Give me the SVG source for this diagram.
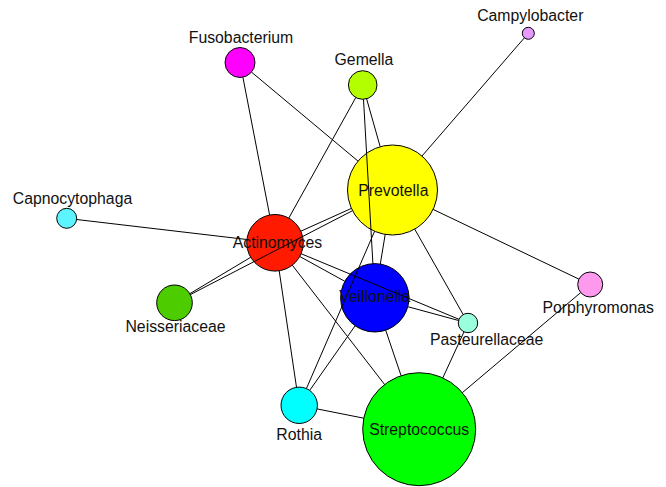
<svg xmlns="http://www.w3.org/2000/svg" width="666" height="487" viewBox="0 0 666 487">
<style>
.n{stroke:#000;stroke-width:1}
.t{font-family:"Liberation Sans",Arial,sans-serif;font-size:15.8px;fill:#111;text-anchor:middle}
.e line{stroke:#000;stroke-width:1}
</style>
<rect width="666" height="487" fill="#fff"/>
<g id="nodes">
<g id="Campylobacter"><circle class="n" cx="528.3" cy="33.3" r="6" fill="#e699ff"/></g>
<g id="Fusobacterium"><circle class="n" cx="240" cy="62.5" r="15" fill="#ff00ff"/></g>
<g id="Gemella"><circle class="n" cx="362.7" cy="85" r="14.3" fill="#b3ff00"/></g>
<g id="Prevotella"><circle class="n" cx="392.5" cy="190" r="45" fill="#ffff00"/></g>
<g id="Capnocytophaga"><circle class="n" cx="66.7" cy="218.3" r="10" fill="#5cf4ff"/></g>
<g id="Actinomyces"><circle class="n" cx="275" cy="242.8" r="28.3" fill="#ff1a00"/></g>
<g id="Neisseriaceae"><circle class="n" cx="174.5" cy="302.8" r="17.8" fill="#4dcc00"/></g>
<g id="Veillonella"><circle class="n" cx="374.8" cy="297.8" r="34.2" fill="#0000ff"/></g>
<g id="Pasteurellaceae"><circle class="n" cx="468" cy="323" r="9.7" fill="#99ffdd"/></g>
<g id="Porphyromonas"><circle class="n" cx="590.2" cy="284.5" r="12.5" fill="#ff99ee"/></g>
<g id="Rothia"><circle class="n" cx="299.2" cy="405.3" r="18.2" fill="#00ffff"/></g>
<g id="Streptococcus"><circle class="n" cx="419.2" cy="429.2" r="56.5" fill="#00ff00"/></g>
</g>
<g id="edges" class="e">
<line x1="524.4" y1="37.8" x2="422.0" y2="156.0"/>
<line x1="251.5" y1="72.1" x2="358.0" y2="161.1"/>
<line x1="242.9" y1="77.2" x2="269.6" y2="215.0"/>
<line x1="355.8" y1="97.5" x2="288.8" y2="218.1"/>
<line x1="366.6" y1="98.8" x2="380.2" y2="146.7"/>
<line x1="363.5" y1="99.3" x2="372.9" y2="263.6"/>
<line x1="76.6" y1="219.5" x2="246.9" y2="239.5"/>
<line x1="189.8" y1="293.7" x2="250.7" y2="257.3"/>
<line x1="190.3" y1="294.6" x2="352.5" y2="210.7"/>
<line x1="300.8" y1="231.2" x2="351.4" y2="208.4"/>
<line x1="299.8" y1="256.5" x2="344.8" y2="281.3"/>
<line x1="301.1" y1="253.7" x2="459.0" y2="319.3"/>
<line x1="279.2" y1="270.8" x2="296.5" y2="387.3"/>
<line x1="292.3" y1="265.2" x2="384.6" y2="384.5"/>
<line x1="385.2" y1="234.4" x2="380.3" y2="264.0"/>
<line x1="414.7" y1="229.1" x2="463.2" y2="314.6"/>
<line x1="433.1" y1="209.4" x2="578.9" y2="279.1"/>
<line x1="374.6" y1="231.3" x2="306.4" y2="388.6"/>
<line x1="355.1" y1="325.8" x2="309.7" y2="390.4"/>
<line x1="407.8" y1="306.7" x2="458.6" y2="320.5"/>
<line x1="385.7" y1="330.2" x2="401.1" y2="375.7"/>
<line x1="464.0" y1="331.8" x2="442.8" y2="377.9"/>
<line x1="580.7" y1="292.6" x2="462.3" y2="392.7"/>
<line x1="317.0" y1="408.9" x2="363.8" y2="418.2"/>
</g>
<g id="labels">
<text class="t" x="530.3" y="21">Campylobacter</text>
<text class="t" x="241" y="43">Fusobacterium</text>
<text class="t" x="364" y="65">Gemella</text>
<text class="t" x="393.3" y="196">Prevotella</text>
<text class="t" x="72.5" y="203.5">Capnocytophaga</text>
<text class="t" x="277.5" y="248.3">Actinomyces</text>
<text class="t" x="175.5" y="332.3">Neisseriaceae</text>
<text class="t" x="374.7" y="301.5">Veillonella</text>
<text class="t" x="486.7" y="345">Pasteurellaceae</text>
<text class="t" x="598.2" y="313">Porphyromonas</text>
<text class="t" x="299.2" y="439.5">Rothia</text>
<text class="t" x="419.2" y="434.5">Streptococcus</text>
</g>
</svg>
